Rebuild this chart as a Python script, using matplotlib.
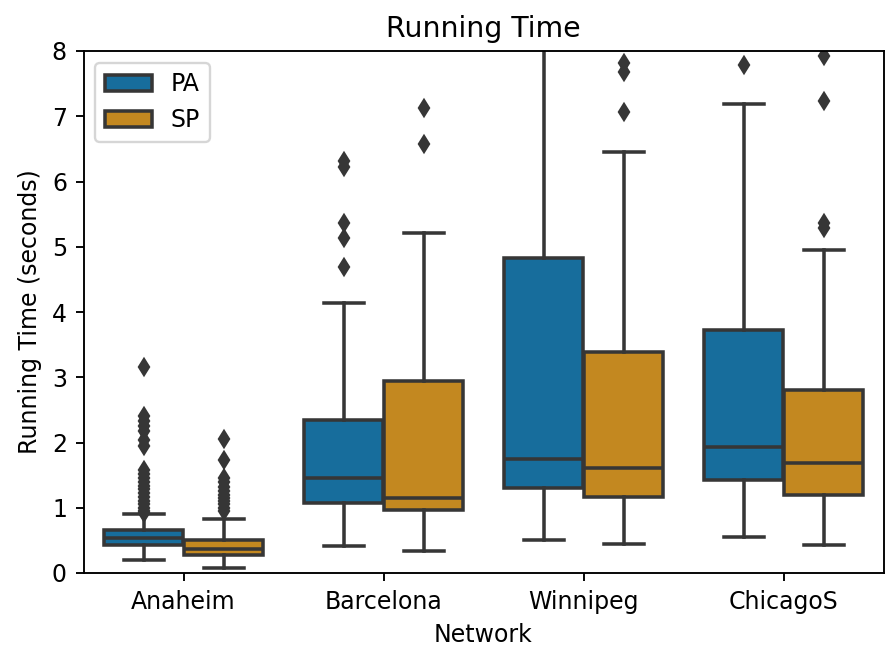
import colorsys
import matplotlib
matplotlib.use("Agg")
import matplotlib.pyplot as plt
import matplotlib.colors as mcolors
from matplotlib.patches import Patch

plt.rcParams['font.family'] = ['DejaVu Sans']

networks = ["Anaheim", "Barcelona", "Winnipeg", "ChicagoS"]
methods = ["PA", "SP"]

# Five-number summaries per network (seconds)
pa_whislo = [0.20, 0.42, 0.50, 0.55]
pa_q1     = [0.43, 1.07, 1.31, 1.42]
pa_med    = [0.53, 1.45, 1.75, 1.93]
pa_q3     = [0.66, 2.34, 4.83, 3.72]
pa_whishi = [0.90, 4.14, 9.30, 7.19]
pa_fliers = [
    [3.16, 2.40, 2.33, 2.26, 2.18, 2.04, 1.95, 1.58, 1.52, 1.46, 1.40, 1.34,
     1.28, 1.22, 1.16, 1.10, 1.05, 1.00, 0.95, 0.92],
    [6.32, 6.22, 5.37, 5.14, 4.69],
    [],
    [7.79],
]

sp_whislo = [0.08, 0.34, 0.45, 0.43]
sp_q1     = [0.28, 0.97, 1.16, 1.20]
sp_med    = [0.37, 1.15, 1.61, 1.68]
sp_q3     = [0.50, 2.94, 3.39, 2.81]
sp_whishi = [0.83, 5.21, 6.45, 4.95]
sp_fliers = [
    [2.05, 1.73, 1.46, 1.39, 1.32, 1.26, 1.20, 1.15, 1.10, 1.05, 1.00, 0.95],
    [7.12, 6.57],
    [7.82, 7.68, 7.06],
    [7.93, 7.24, 5.36, 5.28],
]

palette = ["#0173b2", "#de8f05"]


def desaturate(color, prop):
    r, g, b = mcolors.to_rgb(color)
    h, l, s = colorsys.rgb_to_hls(r, g, b)
    return colorsys.hls_to_rgb(h, l, s * prop)


colors = [desaturate(c, 0.75) for c in palette]
lum = min(colorsys.rgb_to_hls(*c)[1] for c in colors) * 0.6
gray = (lum, lum, lum)

DPI = 170
fig = plt.figure(figsize=(885 / DPI, 647 / DPI), dpi=DPI)
ax = fig.add_axes([83.5 / 885, 1 - 573 / 647, 800 / 885, (573 - 51) / 647])

series = [
    (pa_whislo, pa_q1, pa_med, pa_q3, pa_whishi, pa_fliers),
    (sp_whislo, sp_q1, sp_med, sp_q3, sp_whishi, sp_fliers),
]
width = 0.8 / len(methods)
for j, (wlo, q1, med, q3, whi, fl) in enumerate(series):
    stats = [dict(whislo=wlo[i], q1=q1[i], med=med[i], q3=q3[i],
                  whishi=whi[i], fliers=fl[i]) for i in range(len(networks))]
    positions = [i - 0.4 + width * (j + 0.5) for i in range(len(networks))]
    ax.bxp(stats, positions=positions, widths=width * 0.98,
           capwidths=width * 0.5, patch_artist=True, manage_ticks=False,
           boxprops=dict(facecolor=colors[j], edgecolor=gray, linewidth=1.5),
           medianprops=dict(color=gray, linewidth=1.5),
           whiskerprops=dict(color=gray, linewidth=1.5),
           capprops=dict(color=gray, linewidth=1.5),
           flierprops=dict(marker="d", markersize=5, markerfacecolor=gray,
                           markeredgecolor=gray, linestyle="none"))

ax.set_xlim(-0.5, len(networks) - 0.5)
ax.set_ylim(0, 8)
ax.set_xticks(range(len(networks)))
ax.set_xticklabels(networks)
ax.set_xlabel("Network")
ax.set_ylabel("Running Time (seconds)")
ax.set_title("Running Time")

handles = [Patch(facecolor=colors[k], edgecolor=gray, linewidth=1.5, label=m)
           for k, m in enumerate(methods)]
ax.legend(handles=handles, loc="upper left")

fig.savefig("out.png", dpi=DPI)
